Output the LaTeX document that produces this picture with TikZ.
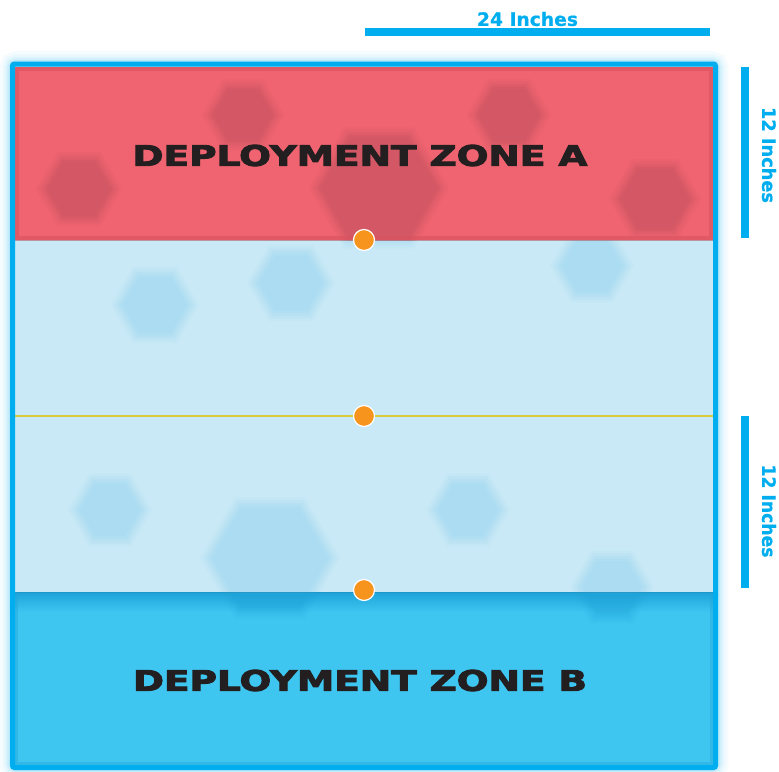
\documentclass[tikz,border=0pt]{standalone}
\usepackage{fontspec}
\usepackage{graphicx}
\setmainfont{DejaVu Sans}
\newfontfamily\zonefont[FakeBold=3]{DejaVu Sans Bold}
\newfontfamily\measurefont[FakeBold=0.8]{DejaVu Sans Bold}
\usetikzlibrary{calc}
\definecolor{edgeblue}{HTML}{00AEEF}
\definecolor{zonered}{HTML}{EF6470}
\definecolor{zoneredd}{HTML}{D8525E}
\definecolor{hexred}{HTML}{B84E5C}
\definecolor{midblue}{HTML}{C9E9F6}
\definecolor{hexblue}{HTML}{8FD3F0}
\definecolor{zoneblue}{HTML}{3EC6F1}
\definecolor{zonebluedark}{HTML}{1FA3D9}
\definecolor{dotorange}{HTML}{F7941D}
\definecolor{lineyellow}{HTML}{D6CB3C}
\definecolor{inkblack}{HTML}{231F20}
\newcommand{\hexlayer}[4]{\fill[#4] (#1,#2) +(0:#3pt) -- +(60:#3pt) -- +(120:#3pt) -- +(180:#3pt) -- +(240:#3pt) -- +(300:#3pt) -- cycle;}
\newcommand{\softhex}[4]{%
  \hexlayer{#1}{#2}{#3+6}{#4,opacity=0.07}
  \hexlayer{#1}{#2}{#3+3}{#4,opacity=0.1}
  \hexlayer{#1}{#2}{#3}{#4,opacity=0.13}
  \hexlayer{#1}{#2}{#3-3}{#4,opacity=0.16}
  \hexlayer{#1}{#2}{#3-6}{#4,opacity=0.14}}
\tikzset{
  zonetext/.style={inner sep=0pt, text=inkblack},
  measuretext/.style={inner sep=0pt, text=edgeblue},
  measurebar/.style={draw=edgeblue, line width=8pt},
  objdot/.style={circle, fill=dotorange, draw=white, line width=1.2pt, minimum size=21pt, inner sep=0pt}
}
\begin{document}
\begin{tikzpicture}[x=1pt,y=-1pt]
\useasboundingbox (0,0) rectangle (779,771);
% glow around board
\foreach \w/\o in {26/0.06,20/0.08,15/0.1,11/0.14,8/0.2}
  \draw[edgeblue!60, line width=\w pt, opacity=\o, rounded corners=4pt] (12.5,64) rectangle (715.5,767.5);
% zones
\fill[zonered] (15,66.5) rectangle (713,240);
\fill[midblue] (15,240) rectangle (713,592);
\fill[zoneblue] (15,592) rectangle (713,765);
\shade[top color=zonebluedark, bottom color=zoneblue] (15,592) rectangle (713,612);
% red hexes
\begin{scope}
\clip (15,66.5) rectangle (713,240);
\softhex{243}{115}{35}{hexred}
\softhex{509}{115}{36}{hexred}
\softhex{79}{189}{37}{hexred}
\softhex{379}{188}{64}{hexred}
\softhex{655}{199}{40}{hexred}
\draw[zoneredd, line width=4pt, opacity=0.6] (17,68.5) rectangle (711,238);
\end{scope}
% middle hexes
\begin{scope}
\clip (15,240) rectangle (713,592);
\softhex{379}{188}{64}{hexblue}
\softhex{155}{305}{38}{hexblue}
\softhex{291}{283}{38}{hexblue}
\softhex{592}{266}{36}{hexblue}
\softhex{110}{510}{36}{hexblue}
\softhex{468}{510}{36}{hexblue}
\softhex{270}{558}{64}{hexblue}
\softhex{612}{587}{36}{hexblue}
\end{scope}
% zone B soft blobs
\begin{scope}
\clip (15,592) rectangle (713,765);
\softhex{270}{558}{64}{zonebluedark}
\softhex{612}{587}{36}{zonebluedark}
\draw[zonebluedark, line width=3pt, opacity=0.4] (16.5,593.5) rectangle (711.5,763.5);
\end{scope}
% zone separators
\draw[zoneredd!80!black, line width=1pt, opacity=0.5] (15,240) -- (713,240);
\draw[zonebluedark!80!black, line width=1pt, opacity=0.4] (15,592) -- (713,592);
% centre line
\coordinate (cl) at (15,416);
\coordinate (cr) at (713,416);
\draw[lineyellow, line width=1.4pt] (cl) -- (cr);
% board border
\draw[edgeblue, line width=5pt, rounded corners=2pt] (12.5,64) rectangle (715.5,767.5);
% objective dots
\node[objdot] (d1) at (364,240) {};
\node[objdot] (d2) at (364,416) {};
\node[objdot] (d3) at (364,590) {};
% zone labels
\node[zonetext] (za) at (360,155.5) {\resizebox{455pt}{21pt}{\zonefont DEPLOYMENT ZONE A}};
\node[zonetext] (zb) at (360,680.5) {\resizebox{454pt}{21pt}{\zonefont DEPLOYMENT ZONE B}};
% measure bars
\coordinate (tb1) at (365,32);
\coordinate (tb2) at (710,32);
\draw[measurebar] (tb1) -- (tb2);
\node[measuretext] (t24) at (527.5,19) {\resizebox{101pt}{14pt}{\measurefont 24 Inches}};
\coordinate (rb1) at (745,67);
\coordinate (rb2) at (745,238);
\draw[measurebar] (rb1) -- (rb2);
\node[measuretext, rotate=-90] (r12a) at (769,155) {\resizebox{96pt}{14pt}{\measurefont 12 Inches}};
\coordinate (rb3) at (745,416);
\coordinate (rb4) at (745,588);
\draw[measurebar] (rb3) -- (rb4);
\node[measuretext, rotate=-90] (r12b) at (769,511) {\resizebox{93pt}{14pt}{\measurefont 12 Inches}};
\end{tikzpicture}
\end{document}
